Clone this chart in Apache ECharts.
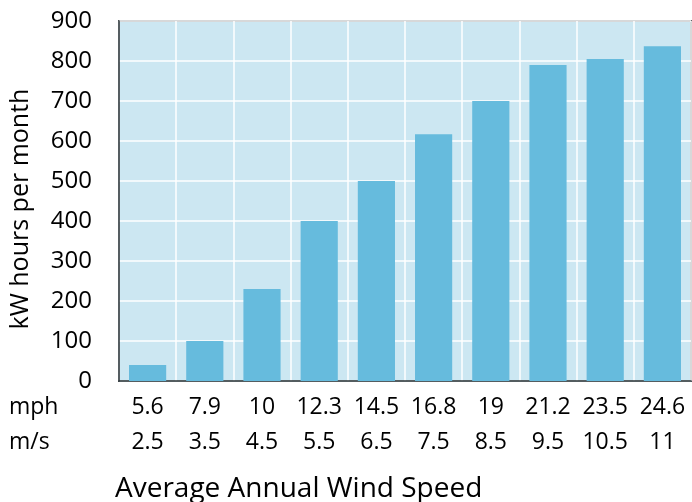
<!DOCTYPE html>
<html>
<head>
<meta charset="utf-8">
<script src="https://cdn.jsdelivr.net/npm/echarts@6/dist/echarts.min.js"></script>
<style>
html,body{margin:0;padding:0;background:#fff;}
#chart{width:692px;height:502px;}
</style>
</head>
<body>
<div id="chart"></div>
<script>
const mph = ['5.6','7.9','10','12.3','14.5','16.8','19','21.2','23.5','24.6'];
const ms = ['2.5','3.5','4.5','5.5','6.5','7.5','8.5','9.5','10.5','11'];
const kwh = [40, 100, 230, 400, 500, 617, 700, 790, 805, 837];
const yTicks = [0, 100, 200, 300, 400, 500, 600, 700, 800, 900];

const FONT = '"Open Sans", "Noto Sans", sans-serif';
const chart = echarts.init(document.getElementById('chart'));
chart.setOption({
  animation: false,
  textStyle: { fontFamily: FONT },
  grid: {
    left: 119, right: 1, top: 21, bottom: 121,
    outerBoundsMode: 'none', containLabel: false,
    show: true, backgroundColor: '#cce7f2', borderColor: '#5f6567', borderWidth: 2
  },
  xAxis: {
    type: 'category',
    data: mph.map((m, i) => m + '|' + ms[i]),
    boundaryGap: true,
    axisTick: { show: false },
    axisLine: { lineStyle: { color: '#2a3438', width: 1.5 } },
    splitLine: { show: true, lineStyle: { color: '#ffffff', width: 1.5 } },
    axisLabel: {
      color: '#000', fontFamily: FONT, fontSize: 23, margin: 9,
      interval: 0,
      formatter: v => { const p = v.split('|'); return '{a|' + p[0] + '}\n{b|' + p[1] + '}'; },
      rich: {
        a: { fontFamily: FONT, fontSize: 23, lineHeight: 35, color: '#000' },
        b: { fontFamily: FONT, fontSize: 23, lineHeight: 35, color: '#000' }
      }
    },
    name: 'Average Annual Wind Speed',
    nameLocation: 'start',
    nameGap: 0,
    nameTextStyle: {
      color: '#000', fontFamily: FONT, fontSize: 28,
      align: 'left', verticalAlign: 'top', padding: [94, 0, 0, -4]
    }
  },
  yAxis: {
    type: 'value',
    min: 0, max: 900, interval: 100,
    axisLine: { show: true, lineStyle: { color: '#2a3438', width: 1.5 } },
    axisTick: { show: false },
    splitLine: { show: true, lineStyle: { color: '#ffffff', width: 1.5 } },
    axisLabel: {
      color: '#000', fontFamily: FONT, fontSize: 24, margin: 27,
      formatter: v => yTicks.includes(v) ? String(v) : ''
    }
  },
  graphic: [
    { type: 'text', x: 21, y: 209, rotation: Math.PI / 2,
      style: { text: 'kW hours per month', font: '25px ' + FONT, fill: '#000', align: 'center', verticalAlign: 'middle' } },
    { type: 'text', x: 9, y: 407.5, style: { text: 'mph', font: '23px ' + FONT, fill: '#000', verticalAlign: 'middle' } },
    { type: 'text', x: 9, y: 442.5, style: { text: 'm/s', font: '23px ' + FONT, fill: '#000', verticalAlign: 'middle' } }
  ],
  series: [{
    type: 'bar',
    data: kwh,
    barWidth: '65%',
    itemStyle: { color: '#66bbdd' }
  }]
});
</script>
</body>
</html>
